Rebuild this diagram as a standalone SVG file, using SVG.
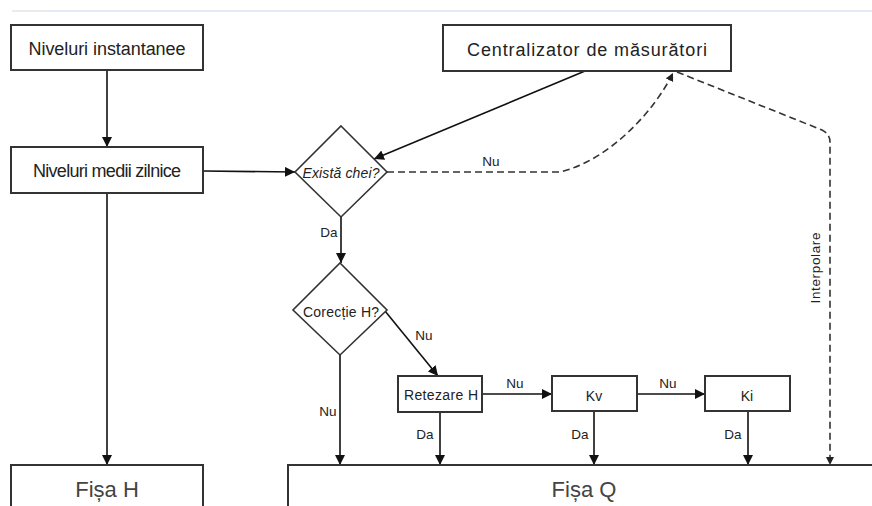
<svg xmlns="http://www.w3.org/2000/svg" width="872" height="506" viewBox="0 0 872 506">
  <defs>
    <marker id="arrow" viewBox="0 0 10 10" refX="10" refY="5" markerWidth="10" markerHeight="10" markerUnits="userSpaceOnUse" orient="auto">
      <path d="M0,0 L10,5 L0,10 Z" fill="#111"/>
    </marker>
    <marker id="arrowSmall" viewBox="0 0 10 10" refX="10" refY="5" markerWidth="8" markerHeight="8" markerUnits="userSpaceOnUse" orient="auto">
      <path d="M0,0 L10,5 L0,10 Z" fill="#222"/>
    </marker>
  </defs>
  <style>
    .box { fill: #fff; stroke: #333; stroke-width: 2; }
    .dia { fill: #fff; stroke: #333; stroke-width: 1.6; }
    .txt { font-family: "Liberation Sans", Arial, sans-serif; fill: #222; text-anchor: middle; }
    .big { font-size: 18px; }
    .mid { font-size: 14px; }
    .lbl { font-family: "Liberation Sans", Arial, sans-serif; font-size: 13.5px; fill: #222; text-anchor: middle; }
    .head { font-family: "Liberation Sans", Arial, sans-serif; font-size: 22px; fill: #444; text-anchor: middle; }
    .solid { fill: none; stroke: #111; stroke-width: 1.6; marker-end: url(#arrow); }
    .dash { fill: none; stroke: #333; stroke-width: 1.6; stroke-dasharray: 7 4; }
  </style>

  <rect width="872" height="506" fill="#fff"/>

  <!-- page rule at the top -->
  <line x1="12" y1="11" x2="45" y2="11" stroke="#d8d8d8" stroke-width="1"/>
  <line x1="45" y1="11" x2="872" y2="11" stroke="#c6d6ea" stroke-width="1"/>

  <g id="connectors">
    <line class="solid" x1="107" y1="70" x2="107" y2="147"/>
    <line class="solid" x1="203" y1="171" x2="295" y2="172"/>
    <line class="solid" x1="107" y1="193" x2="107" y2="465"/>
    <line class="solid" x1="585" y1="71" x2="374" y2="159"/>
    <path class="dash" d="M387,172 L560,172 C610,160 655,110 673,73" marker-end="url(#arrowSmall)"/>
    <path class="dash" d="M677,72 L822,130 Q830,134 830,142 L830,465" marker-end="url(#arrowSmall)"/>
    <line class="solid" x1="341" y1="217" x2="341" y2="263"/>
    <line class="solid" x1="385" y1="311" x2="438" y2="376"/>
    <line class="solid" x1="340" y1="355" x2="340" y2="465"/>
    <line class="solid" x1="482" y1="394" x2="552" y2="394"/>
    <line class="solid" x1="637" y1="394" x2="705" y2="394"/>
    <line class="solid" x1="440" y1="412" x2="440" y2="465"/>
    <line class="solid" x1="594" y1="411" x2="594" y2="465"/>
    <line class="solid" x1="748" y1="411" x2="748" y2="465"/>

    <text class="lbl" x="491" y="166">Nu</text>
    <text class="lbl" x="329" y="237">Da</text>
    <text class="lbl" x="424" y="340">Nu</text>
    <text class="lbl" x="328" y="416">Nu</text>
    <text class="lbl" x="515" y="388">Nu</text>
    <text class="lbl" x="668" y="388">Nu</text>
    <text class="lbl" x="425" y="439">Da</text>
    <text class="lbl" x="580" y="439">Da</text>
    <text class="lbl" x="733" y="439">Da</text>
    <text class="lbl" font-size="14" textLength="71" transform="translate(820,268) rotate(-90)">Interpolare</text>
  </g>

  <g id="niveluri-instantanee">
    <rect class="box" x="11" y="25" width="192" height="45"/>
    <text class="txt big" x="107" y="55" textLength="157">Niveluri instantanee</text>
  </g>

  <g id="niveluri-medii">
    <rect class="box" x="11" y="147" width="192" height="46"/>
    <text class="txt big" x="107" y="177" textLength="148">Niveluri medii zilnice</text>
  </g>

  <g id="centralizator">
    <rect class="box" x="443" y="25" width="288" height="46"/>
    <text class="txt big" x="587" y="56" textLength="240">Centralizator de măsurători</text>
  </g>

  <g id="exista-chei">
    <path class="dia" d="M341,126 L387,172 L341,217 L295,172 Z"/>
    <text class="txt mid" x="341" y="178" font-style="italic" textLength="77">Există chei?</text>
  </g>

  <g id="corectie-h">
    <path class="dia" d="M340,263 L387,310 L340,355 L293,310 Z"/>
    <text class="txt mid" x="341" y="317" textLength="76">Corecție H?</text>
  </g>

  <g id="retezare-h">
    <rect class="box" x="398" y="376" width="84" height="36"/>
    <text class="txt mid" x="441" y="400" textLength="74">Retezare H</text>
  </g>

  <g id="kv">
    <rect class="box" x="552" y="376" width="85" height="35"/>
    <text class="txt mid" x="594" y="401">Kv</text>
  </g>

  <g id="ki">
    <rect class="box" x="705" y="376" width="85" height="35"/>
    <text class="txt mid" x="747" y="401">Ki</text>
  </g>

  <g id="fisa-h">
    <path class="box" d="M11,520 L11,465 L203,465 L203,520"/>
    <text class="head" x="107" y="497">Fișa H</text>
  </g>

  <g id="fisa-q">
    <path class="box" d="M288,520 L288,465 L880,465"/>
    <text class="head" x="584" y="497">Fișa Q</text>
  </g>
</svg>
